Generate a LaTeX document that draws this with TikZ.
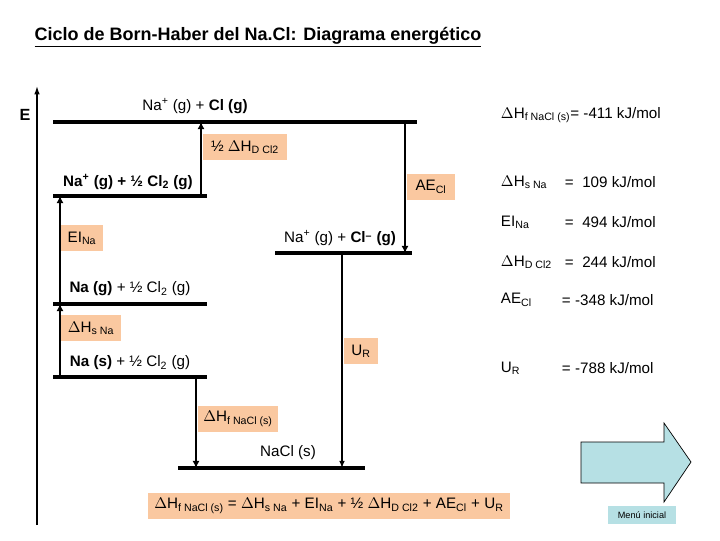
\documentclass[tikz,border=0pt]{standalone}
\usepackage{fontspec}
\setmainfont{Liberation Sans}
\usetikzlibrary{positioning,arrows.meta}
\definecolor{caja}{RGB}{250,200,160}
\definecolor{celeste}{RGB}{182,224,228}
\tikzset{
  nivel/.style={line width=2.2pt},
  paso/.style={line width=2pt,-{Latex[length=5pt,width=5pt]}},
  etq/.style={fill=caja,inner sep=2pt,font=\fontsize{10.8}{12}\selectfont},
  txt/.style={font=\fontsize{10.8}{12}\selectfont},
}
\begin{document}
\begin{tikzpicture}[x=0.025cm,y=-0.025cm]
\useasboundingbox (0,0) rectangle (720,540);
\node[font=\fontsize{12.8}{14}\selectfont\bfseries] (titulo) at (258,37) {\underline{Ciclo de Born-Haber del Na.Cl: Diagrama energético}};
% eje
\coordinate (e0) at (37,525);
\coordinate (e1) at (37,86);
\draw[line width=1pt,-{Latex[length=6pt,width=4pt]}] (e0) -- (e1);
\node[font=\fontsize{11.5}{12}\selectfont\bfseries] (E) at (25,115) {E};
% niveles
\coordinate (a0) at (53,122); \coordinate (a1) at (417,122);
\coordinate (b0) at (53,196); \coordinate (b1) at (207,196);
\coordinate (c0) at (275,253); \coordinate (c1) at (412,253);
\coordinate (d0) at (53,304); \coordinate (d1) at (207,304);
\coordinate (f0) at (53,377); \coordinate (f1) at (207,377);
\coordinate (g0) at (178,468); \coordinate (g1) at (365,468);
\draw[nivel] (a0) -- (a1);
\draw[nivel] (b0) -- (b1);
\draw[nivel] (c0) -- (c1);
\draw[nivel] (d0) -- (d1);
\draw[line width=3pt] (f0) -- (f1);
\draw[line width=3.5pt] (g0) -- (g1);
\node[txt] (na) at (195,106) {Na\textsuperscript{+} (g) + \textbf{Cl (g)}};
\node[txt] (nb) at (128,182) {\textbf{Na\textsuperscript{+} (g) + ½ Cl\textsubscript{2} (g)}};
\node[txt] (nc) at (340,238) {Na\textsuperscript{+} (g) + \textbf{Cl\textsuperscript{\raisebox{-2pt}{--}} (g)}};
\node[txt] (nd) at (130,289) {\textbf{Na (g)} + ½ Cl\textsubscript{2} (g)};
\node[txt] (nf) at (130,363) {\textbf{Na (s)} + ½ Cl\textsubscript{2} (g)};
\node[txt] (ng) at (288,453) {NaCl (s)};
% pasos
\coordinate (s0) at (60,377); \coordinate (s1) at (60,304);
\coordinate (i0) at (60,304); \coordinate (i1) at (60,196);
\coordinate (h0) at (201,196); \coordinate (h1) at (201,122);
\coordinate (ae0) at (405,122); \coordinate (ae1) at (405,253);
\coordinate (u0) at (342,253); \coordinate (u1) at (342,468);
\coordinate (fo0) at (196,377); \coordinate (fo1) at (196,468);
\draw[paso] (s0) -- (s1);
\draw[paso] (i0) -- (i1);
\draw[paso] (h0) -- (h1);
\draw[paso] (ae0) -- (ae1);
\draw[line width=1.2pt,-{Latex[length=5pt,width=4pt]}] (u0) -- (u1);
\draw[paso] (fo0) -- (fo1);
\node[etq,minimum width=61pt*0.71,minimum height=26pt*0.71] (ls) at (91,328) {$\Delta$H\textsubscript{s Na}};
\node[etq,minimum width=43pt*0.71,minimum height=26pt*0.71] (li) at (82,238) {EI\textsubscript{Na}};
\node[etq,minimum width=84pt*0.71,minimum height=26pt*0.71] (lh) at (245,147) {½ $\Delta$H\textsubscript{D Cl2}};
\node[etq,minimum width=48pt*0.71,minimum height=26pt*0.71] (lae) at (431,187) {AE\textsubscript{Cl}};
\node[etq,minimum width=35pt*0.71,minimum height=26pt*0.71] (lu) at (361,351) {U\textsubscript{R}};
\node[etq,minimum width=80pt*0.71,minimum height=27pt*0.71] (lf) at (238,419) {$\Delta$H\textsubscript{f NaCl (s)}};
\node[etq,minimum width=362pt*0.71,minimum height=27pt*0.71] (form) at (329,506)
  {$\Delta$H\textsubscript{f NaCl (s)} = $\Delta$H\textsubscript{s Na} + EI\textsubscript{Na} + ½ $\Delta$H\textsubscript{D Cl2} + AE\textsubscript{Cl} + U\textsubscript{R}};
% datos
\node[txt,anchor=west] (dhf) at (496,115) {$\Delta$H\textsubscript{f NaCl (s)}= -411 kJ/mol};
\node[txt,anchor=west] (k1) at (496,182) {$\Delta$H\textsubscript{s Na}};
\node[txt,anchor=west] (v1) at (560,182) {=\ \ 109 kJ/mol};
\node[txt,anchor=west] (k2) at (496,222) {EI\textsubscript{Na}};
\node[txt,anchor=west] (v2) at (560,222) {=\ \ 494 kJ/mol};
\node[txt,anchor=west] (k3) at (496,262) {$\Delta$H\textsubscript{D Cl2}};
\node[txt,anchor=west] (v3) at (560,262) {=\ \ 244 kJ/mol};
\node[txt,anchor=west] (k4) at (496,300) {AE\textsubscript{Cl}};
\node[txt,anchor=west] (v4) at (557,300) {= -348 kJ/mol};
\node[txt,anchor=west] (k5) at (496,368) {U\textsubscript{R}};
\node[txt,anchor=west] (v5) at (557,368) {= -788 kJ/mol};
% flecha menu
\draw[fill=celeste,draw=black,line width=0.5pt]
  (581,442) -- (664,442) -- (664,423) -- (691,462) -- (664,502) -- (664,483) -- (581,483) -- cycle;
\node[fill=celeste,font=\fontsize{6.5}{8}\selectfont,inner sep=2pt,minimum width=69pt*0.71,minimum height=18pt*0.71] (menu) at (642,515) {Menú inicial};
\end{tikzpicture}
\end{document}
